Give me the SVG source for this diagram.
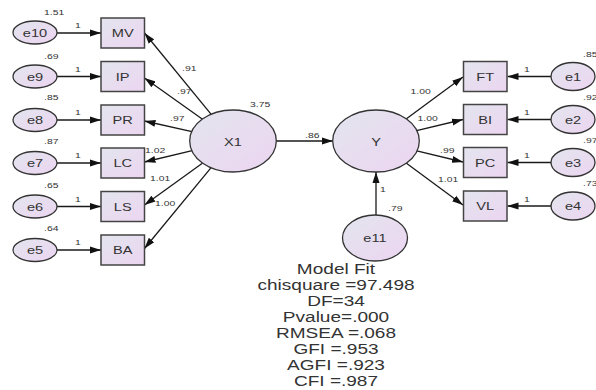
<svg xmlns="http://www.w3.org/2000/svg" width="596" height="390" viewBox="0 0 596 390">
<style>
.n{stroke:#333;stroke-width:1.3;fill:url(#g)}
.b{stroke:#444;stroke-width:1.5;fill:url(#g)}
.c{stroke:#1a1a1a;stroke-width:1.3;fill:none;marker-end:url(#a)}
.t{font-family:"Liberation Sans",Arial,sans-serif;font-size:11.5px;fill:#333;text-anchor:middle}
.s{font-family:"Liberation Sans",Arial,sans-serif;font-size:8px;fill:#333}
.m{font-family:"Liberation Sans",Arial,sans-serif;font-size:15px;fill:#333;text-anchor:middle}
</style>
<defs>
<linearGradient id="g" x1="0" y1="0" x2="1" y2="1">
<stop offset="0" stop-color="#e3e5ee"/>
<stop offset="1" stop-color="#ecd5f1"/>
</linearGradient>
<marker id="a" markerUnits="userSpaceOnUse" markerWidth="11" markerHeight="8" refX="11" refY="4" orient="auto">
<path d="M0,0.5 L11,4 L0,7.5 z" fill="#111"/>
</marker>
</defs>
<rect width="596" height="390" fill="#fff"/>
<g id="connectors">
<line class="c" x1="57" y1="33" x2="101" y2="33"/>
<line class="c" x1="57" y1="76.5" x2="101" y2="76.5"/>
<line class="c" x1="57" y1="120" x2="101" y2="120"/>
<line class="c" x1="57" y1="163" x2="101" y2="163"/>
<line class="c" x1="57" y1="206.5" x2="101" y2="206.5"/>
<line class="c" x1="57" y1="250" x2="101" y2="250"/>
<line class="c" x1="211.2" y1="114.3" x2="144.5" y2="33"/>
<line class="c" x1="202.5" y1="119.2" x2="144.5" y2="78"/>
<line class="c" x1="192" y1="131.7" x2="144.5" y2="121"/>
<line class="c" x1="192.2" y1="150.7" x2="144.5" y2="162"/>
<line class="c" x1="202.7" y1="163" x2="144.5" y2="205"/>
<line class="c" x1="211.1" y1="167.7" x2="144.5" y2="248.5"/>
<line class="c" x1="276.3" y1="141" x2="333" y2="141"/>
<line class="c" x1="376" y1="215" x2="376" y2="172"/>
<line class="c" x1="406.1" y1="118.9" x2="463" y2="77"/>
<line class="c" x1="416.6" y1="130.7" x2="463" y2="119.5"/>
<line class="c" x1="416.8" y1="150.8" x2="463" y2="162"/>
<line class="c" x1="406.1" y1="163.1" x2="463" y2="205"/>
<line class="c" x1="551" y1="76.5" x2="507.5" y2="76.5"/>
<line class="c" x1="551" y1="119.5" x2="507.5" y2="119.5"/>
<line class="c" x1="551" y1="162.5" x2="507.5" y2="162.5"/>
<line class="c" x1="551" y1="206" x2="507.5" y2="206"/>
<text class="s" transform="matrix(1.3 0 0 1 75 28)">1</text>
<text class="s" transform="matrix(1.3 0 0 1 75 71.5)">1</text>
<text class="s" transform="matrix(1.3 0 0 1 75 115)">1</text>
<text class="s" transform="matrix(1.3 0 0 1 75 158)">1</text>
<text class="s" transform="matrix(1.3 0 0 1 75 201.5)">1</text>
<text class="s" transform="matrix(1.3 0 0 1 75 245)">1</text>
<text class="s" transform="matrix(1.3 0 0 1 182 71)">.91</text>
<text class="s" transform="matrix(1.3 0 0 1 177 94)">.97</text>
<text class="s" transform="matrix(1.3 0 0 1 170 121)">.97</text>
<text class="s" transform="matrix(1.3 0 0 1 145 153)">1.02</text>
<text class="s" transform="matrix(1.3 0 0 1 150 181)">1.01</text>
<text class="s" transform="matrix(1.3 0 0 1 155 206)">1.00</text>
<text class="s" transform="matrix(1.3 0 0 1 305 138)">.86</text>
<text class="s" transform="matrix(1.3 0 0 1 410.5 94)">1.00</text>
<text class="s" transform="matrix(1.3 0 0 1 417.5 121)">1.00</text>
<text class="s" transform="matrix(1.3 0 0 1 440 153)">.99</text>
<text class="s" transform="matrix(1.3 0 0 1 438 182)">1.01</text>
<text class="s" transform="matrix(1.3 0 0 1 380 192)">1</text>
<text class="s" transform="matrix(1.3 0 0 1 524 72)">1</text>
<text class="s" transform="matrix(1.3 0 0 1 524 115)">1</text>
<text class="s" transform="matrix(1.3 0 0 1 524 158)">1</text>
<text class="s" transform="matrix(1.3 0 0 1 524 201.5)">1</text>
</g>
<g id="e10"><ellipse class="n" cx="35" cy="32.5" rx="22" ry="11.5"/><text class="t" transform="matrix(1.27 0 0 1 35 36.5)">e10</text><text class="s" transform="matrix(1.3 0 0 1 44 15)">1.51</text></g>
<g id="e9"><ellipse class="n" cx="35" cy="76.5" rx="22" ry="11.5"/><text class="t" transform="matrix(1.27 0 0 1 35 80.5)">e9</text><text class="s" transform="matrix(1.3 0 0 1 44 58.5)">.69</text></g>
<g id="e8"><ellipse class="n" cx="35" cy="120" rx="22" ry="11.5"/><text class="t" transform="matrix(1.27 0 0 1 35 124)">e8</text><text class="s" transform="matrix(1.3 0 0 1 44 99.5)">.85</text></g>
<g id="e7"><ellipse class="n" cx="35" cy="163" rx="22" ry="11.5"/><text class="t" transform="matrix(1.27 0 0 1 35 167)">e7</text><text class="s" transform="matrix(1.3 0 0 1 44 143.5)">.87</text></g>
<g id="e6"><ellipse class="n" cx="35" cy="206.5" rx="22" ry="11.5"/><text class="t" transform="matrix(1.27 0 0 1 35 210.5)">e6</text><text class="s" transform="matrix(1.3 0 0 1 44 187.5)">.65</text></g>
<g id="e5"><ellipse class="n" cx="35" cy="250" rx="22" ry="11.5"/><text class="t" transform="matrix(1.27 0 0 1 35 254)">e5</text><text class="s" transform="matrix(1.3 0 0 1 44 230.5)">.64</text></g>
<g id="MV"><rect class="b" x="101" y="18" width="43.5" height="30"/><text class="t" transform="matrix(1.27 0 0 1 122.7 37)">MV</text></g>
<g id="IP"><rect class="b" x="101" y="61.5" width="43.5" height="30"/><text class="t" transform="matrix(1.27 0 0 1 122.7 80.5)">IP</text></g>
<g id="PR"><rect class="b" x="101" y="105" width="43.5" height="30"/><text class="t" transform="matrix(1.27 0 0 1 122.7 124)">PR</text></g>
<g id="LC"><rect class="b" x="101" y="148" width="43.5" height="30"/><text class="t" transform="matrix(1.27 0 0 1 122.7 167)">LC</text></g>
<g id="LS"><rect class="b" x="101" y="191.5" width="43.5" height="30"/><text class="t" transform="matrix(1.27 0 0 1 122.7 210.5)">LS</text></g>
<g id="BA"><rect class="b" x="101" y="235" width="43.5" height="30"/><text class="t" transform="matrix(1.27 0 0 1 122.7 254)">BA</text></g>
<g id="X1"><ellipse class="n" cx="233" cy="141" rx="43.3" ry="31"/><text class="t" transform="matrix(1.27 0 0 1 233 145.5)">X1</text><text class="s" transform="matrix(1.3 0 0 1 250 107)">3.75</text></g>
<g id="Y"><ellipse class="n" cx="376" cy="141" rx="43.3" ry="31"/><text class="t" transform="matrix(1.27 0 0 1 376 145.5)">Y</text></g>
<g id="e11"><ellipse class="n" cx="375" cy="238" rx="32.5" ry="23"/><text class="t" transform="matrix(1.27 0 0 1 375 242)">e11</text><text class="s" transform="matrix(1.3 0 0 1 388 211)">.79</text></g>
<g id="FT"><rect class="b" x="463.5" y="61.5" width="43.5" height="30"/><text class="t" transform="matrix(1.27 0 0 1 485.2 80.5)">FT</text></g>
<g id="BI"><rect class="b" x="463.5" y="104.5" width="43.5" height="30"/><text class="t" transform="matrix(1.27 0 0 1 485.2 123.5)">BI</text></g>
<g id="PC"><rect class="b" x="463.5" y="147.5" width="43.5" height="30"/><text class="t" transform="matrix(1.27 0 0 1 485.2 166.5)">PC</text></g>
<g id="VL"><rect class="b" x="463.5" y="191" width="43.5" height="30"/><text class="t" transform="matrix(1.27 0 0 1 485.2 210)">VL</text></g>
<g id="e1"><ellipse class="n" cx="573" cy="76.5" rx="22" ry="14"/><text class="t" transform="matrix(1.27 0 0 1 573 80.5)">e1</text><text class="s" transform="matrix(1.3 0 0 1 583 57)">.85</text></g>
<g id="e2"><ellipse class="n" cx="573" cy="119.5" rx="22" ry="14"/><text class="t" transform="matrix(1.27 0 0 1 573 123.5)">e2</text><text class="s" transform="matrix(1.3 0 0 1 583 100)">.92</text></g>
<g id="e3"><ellipse class="n" cx="573" cy="162.5" rx="22" ry="14"/><text class="t" transform="matrix(1.27 0 0 1 573 166.5)">e3</text><text class="s" transform="matrix(1.3 0 0 1 583 143)">.97</text></g>
<g id="e4"><ellipse class="n" cx="573" cy="206" rx="22" ry="14"/><text class="t" transform="matrix(1.27 0 0 1 573 210)">e4</text><text class="s" transform="matrix(1.3 0 0 1 583 186)">.73</text></g>
<g id="model-fit">
<text class="m" transform="matrix(1.27 0 0 1 336 274)">Model Fit</text>
<text class="m" transform="matrix(1.27 0 0 1 336 290)">chisquare =97.498</text>
<text class="m" transform="matrix(1.27 0 0 1 336 305.5)">DF=34</text>
<text class="m" transform="matrix(1.27 0 0 1 336 321.5)">Pvalue=.000</text>
<text class="m" transform="matrix(1.27 0 0 1 336 337.5)">RMSEA =.068</text>
<text class="m" transform="matrix(1.27 0 0 1 336 353.5)">GFI =.953</text>
<text class="m" transform="matrix(1.27 0 0 1 336 369.5)">AGFI =.923</text>
<text class="m" transform="matrix(1.27 0 0 1 336 385.5)">CFI =.987</text>
</g>
</svg>
